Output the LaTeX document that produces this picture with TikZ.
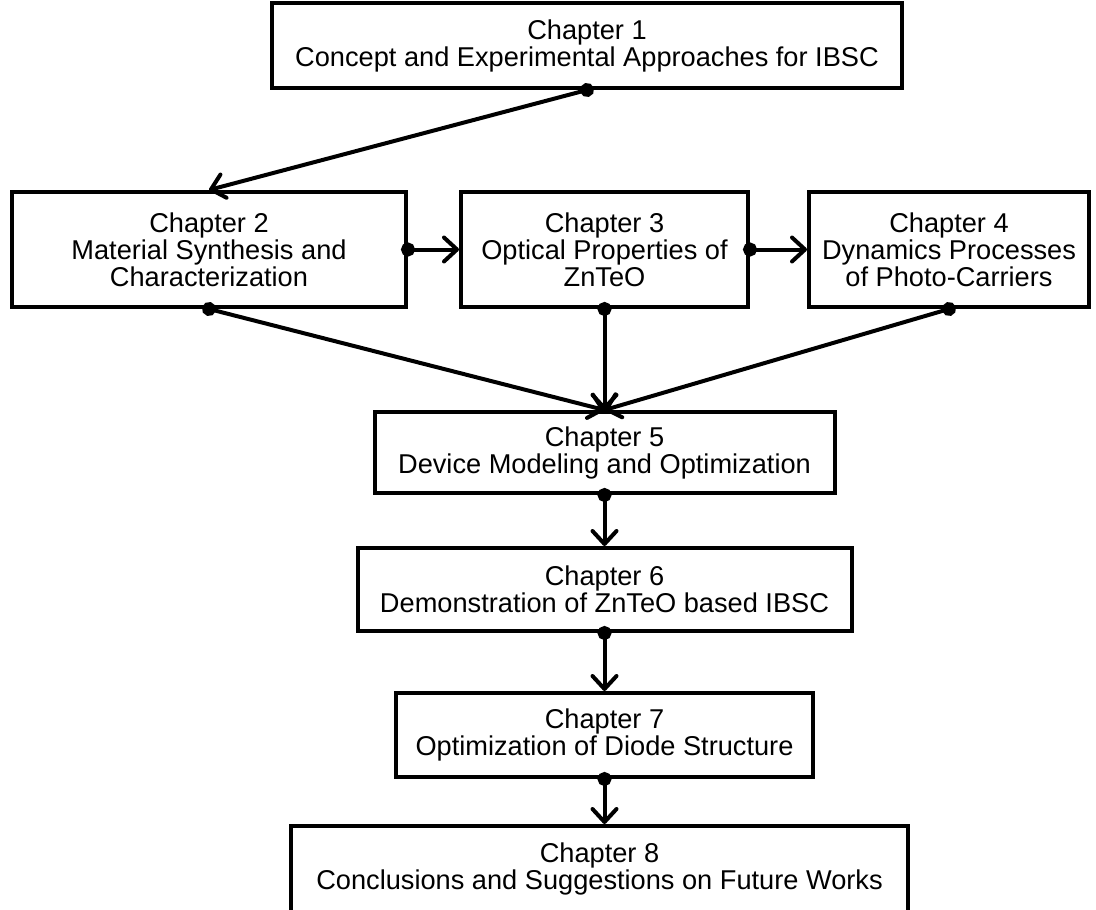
\documentclass[tikz,border=0pt]{standalone}
\usepackage{fontspec}
\setmainfont{Liberation Sans}
\usetikzlibrary{positioning,arrows.meta}

\begin{document}
\begin{tikzpicture}[
    x=0.5pt, y=-0.5pt,
    font=\fontsize{13.6}{13.5}\selectfont,
    chapter/.style={rectangle, draw, line width=2pt, align=center, inner sep=0pt},
    wide/.style={minimum width=315pt, minimum height=42.5pt},
    tall/.style={minimum height=57.5pt},
    line/.style={draw, line width=2pt, shorten <=-3.5pt,
        {Circle[length=7pt]}-{Straight Barb[length=6.5pt, width=12pt, line cap=round, line join=round]}}
]
    \useasboundingbox (0,0) rectangle (1096,909);

    % Place nodes
    \node [chapter, wide] (ch1) at (587,45.5)
        {Chapter 1\\Concept and Experimental Approaches for IBSC};

    \node [chapter, tall, minimum width=143.5pt] (ch3) at (604.5,249.5)
        {Chapter 3\\Optical Properties of\\ZnTeO};
    \node [chapter, tall, minimum width=197pt, left=25.5pt of ch3] (ch2)
        {Chapter 2\\Material Synthesis and\\Characterization};
    \node [chapter, tall, minimum width=140pt, right=28.5pt of ch3] (ch4)
        {Chapter 4\\Dynamics Processes\\of Photo-Carriers};

    \node [chapter, minimum width=230pt, minimum height=40.5pt, below=50.5pt of ch3] (ch5)
        {Chapter 5\\Device Modeling and Optimization};
    \node [chapter, minimum width=247pt, minimum height=41.5pt, below=25.5pt of ch5] (ch6)
        {Chapter 6\\Demonstration of ZnTeO based IBSC};
    \node [chapter, minimum width=208.5pt, minimum height=42pt, below=29pt of ch6] (ch7)
        {Chapter 7\\Optimization of Diode Structure};
    \node [chapter, minimum width=308.5pt, minimum height=43pt, below=22.5pt of ch7, xshift=-2.5pt] (ch8)
        {Chapter 8\\Conclusions and Suggestions on Future Works};

    % Draw edges
    \path [line] (ch1.south) -- (ch2.north);
    \path [line] (ch2.east) -- (ch3.west);
    \path [line] (ch3.east) -- (ch4.west);
    \path [line] (ch2.south) -- (ch5.north);
    \path [line] (ch3.south) -- (ch5.north);
    \path [line] (ch4.south) -- (ch5.north);
    \path [line] (ch5.south) -- (ch6.north);
    \path [line] (ch6.south) -- (ch7.north);
    \path [line] (ch7.south) -- (ch7.south |- ch8.north);
\end{tikzpicture}
\end{document}
